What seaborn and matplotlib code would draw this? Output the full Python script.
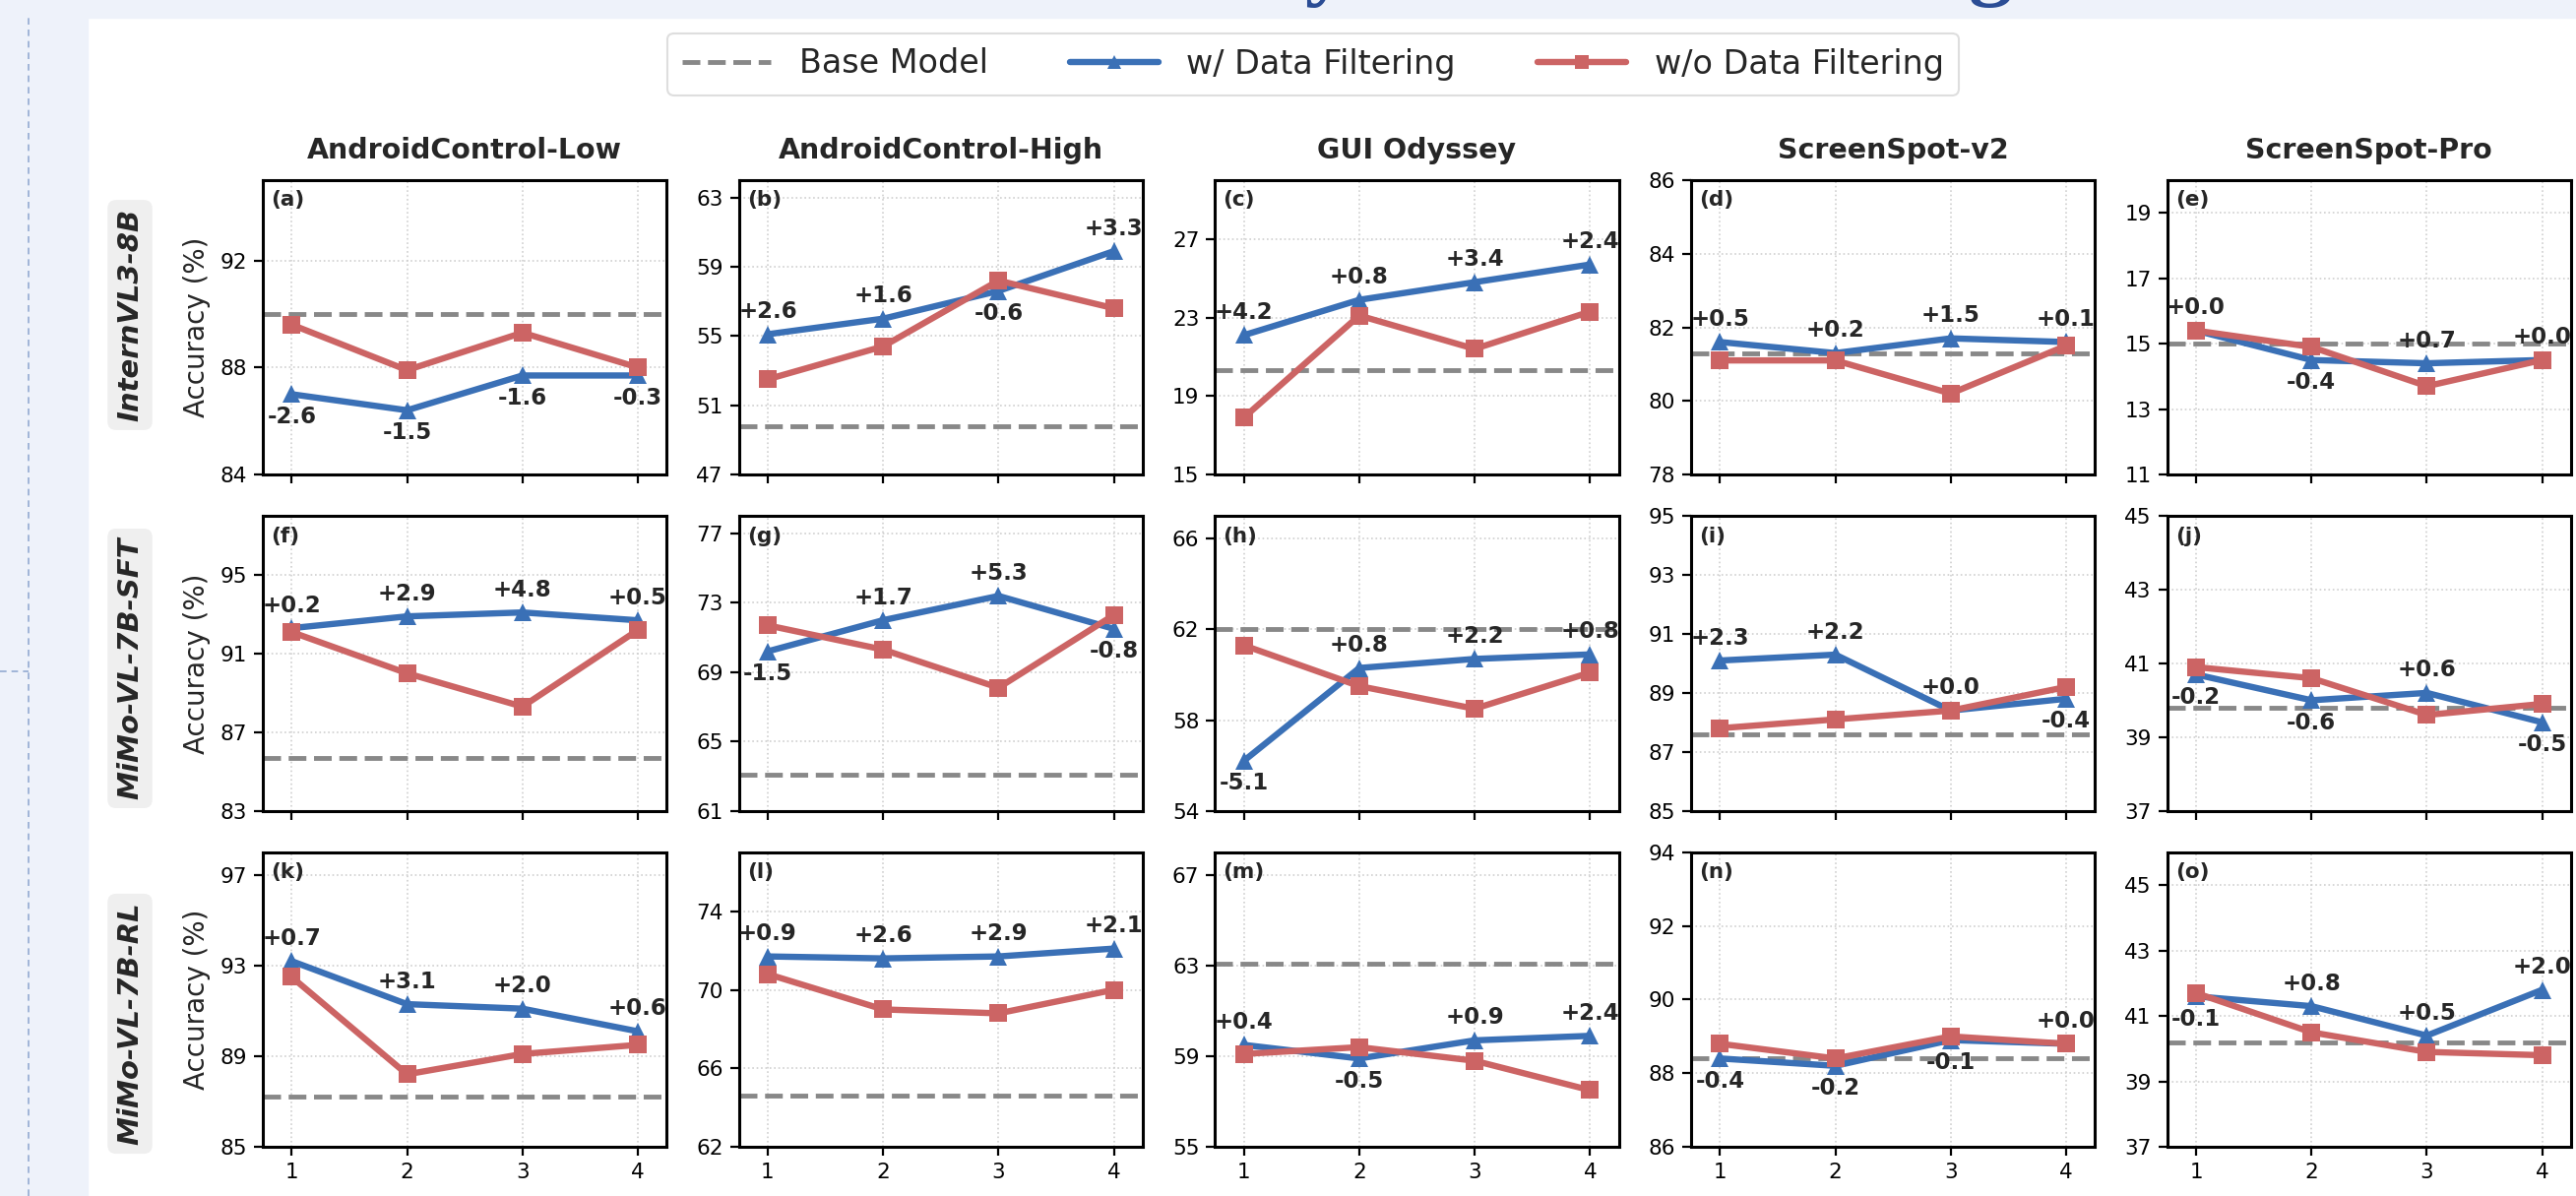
import numpy as np
import pandas as pd
import seaborn as sns
import matplotlib.pyplot as plt
from matplotlib.lines import Line2D
from matplotlib.patches import Rectangle

# Labels
models = ["InternVL3-8B", "MiMo-VL-7B-SFT", "MiMo-VL-7B-RL"]
benchmarks = ["AndroidControl-Low", "AndroidControl-High", "GUI Odyssey",
              "ScreenSpot-v2", "ScreenSpot-Pro"]
steps = [1, 2, 3, 4]
tags = list("abcdefghijklmno")

# Base model accuracy (one value per benchmark)
intern_base = [90.0, 49.8, 20.3, 81.3, 15.0]
sft_base = [85.7, 63.1, 62.0, 87.6, 39.8]
rl_base = [87.2, 64.6, 63.1, 88.4, 40.2]

# w/ Data Filtering
intern_w = [[87.0, 86.4, 87.7, 87.7], [55.1, 56.0, 57.6, 59.9], [22.1, 23.9, 24.8, 25.7],
            [81.6, 81.3, 81.7, 81.6], [15.4, 14.5, 14.4, 14.5]]
sft_w = [[92.3, 92.9, 93.1, 92.7], [70.2, 72.0, 73.4, 71.5], [56.2, 60.3, 60.7, 60.9],
         [90.1, 90.3, 88.4, 88.8], [40.7, 40.0, 40.2, 39.4]]
rl_w = [[93.2, 91.3, 91.1, 90.1], [71.7, 71.6, 71.7, 72.1], [59.5, 58.9, 59.7, 59.9],
        [88.4, 88.2, 88.9, 88.8], [41.6, 41.3, 40.4, 41.8]]

# w/o Data Filtering
intern_wo = [[89.6, 87.9, 89.3, 88.0], [52.5, 54.4, 58.2, 56.6], [17.9, 23.1, 21.4, 23.3],
             [81.1, 81.1, 80.2, 81.5], [15.4, 14.9, 13.7, 14.5]]
sft_wo = [[92.1, 90.0, 88.3, 92.2], [71.7, 70.3, 68.1, 72.3], [61.3, 59.5, 58.5, 60.1],
          [87.8, 88.1, 88.4, 89.2], [40.9, 40.6, 39.6, 39.9]]
rl_wo = [[92.5, 88.2, 89.1, 89.5], [70.8, 69.0, 68.8, 70.0], [59.1, 59.4, 58.8, 57.5],
         [88.8, 88.4, 89.0, 88.8], [41.7, 40.5, 39.9, 39.8]]

# Printed gains (w/ minus w/o)
intern_delta = [[-2.6, -1.5, -1.6, -0.3], [2.6, 1.6, -0.6, 3.3], [4.2, 0.8, 3.4, 2.4],
                [0.5, 0.2, 1.5, 0.1], [0.0, -0.4, 0.7, 0.0]]
sft_delta = [[0.2, 2.9, 4.8, 0.5], [-1.5, 1.7, 5.3, -0.8], [-5.1, 0.8, 2.2, 0.8],
             [2.3, 2.2, 0.0, -0.4], [-0.2, -0.6, 0.6, -0.5]]
rl_delta = [[0.7, 3.1, 2.0, 0.6], [0.9, 2.6, 2.9, 2.1], [0.4, -0.5, 0.9, 2.4],
            [-0.4, -0.2, -0.1, 0.0], [-0.1, 0.8, 0.5, 2.0]]

# y axis (bottom, top, tick step) per panel
intern_yrange = [(84, 95, 4), (47, 64, 4), (15, 30, 4), (78, 86, 2), (11, 20, 2)]
sft_yrange = [(83, 98, 4), (61, 78, 4), (54, 67, 4), (85, 95, 2), (37, 45, 2)]
rl_yrange = [(85, 98, 4), (62, 77, 4), (55, 68, 4), (86, 94, 2), (37, 46, 2)]

base_all = [intern_base, sft_base, rl_base]
w_all = [intern_w, sft_w, rl_w]
wo_all = [intern_wo, sft_wo, rl_wo]
delta_all = [intern_delta, sft_delta, rl_delta]
yrange_all = [intern_yrange, sft_yrange, rl_yrange]

# long table for seaborn
rows = []
for m, model in enumerate(models):
    for b, bench in enumerate(benchmarks):
        for k, s in enumerate(steps):
            rows.append((model, bench, s, w_all[m][b][k], "w/ Data Filtering"))
            rows.append((model, bench, s, wo_all[m][b][k], "w/o Data Filtering"))
df = pd.DataFrame(rows, columns=["model", "bench", "step", "acc", "series"])

BLUE = "#3A70B6"
RED = "#CC6464"
GRAY = "#888888"
palette = {"w/ Data Filtering": BLUE, "w/o Data Filtering": RED}
markers = {"w/ Data Filtering": "^", "w/o Data Filtering": "s"}

sns.set_theme(style="ticks")
plt.rcParams["font.family"] = ["DejaVu Sans"]

W, H = 2617, 1215
fig, axes = plt.subplots(3, 5, figsize=(W / 100, H / 100), dpi=100)
fig.subplots_adjust(left=267 / W, right=2612 / W, top=1 - 183 / H, bottom=1 - 1165 / H,
                    wspace=0.179, hspace=0.142)

# page decoration around the figure
fig.patches.append(Rectangle((0, 0), 89 / W, 1, transform=fig.transFigure,
                             color="#EEF2FA", zorder=-10))
fig.patches.append(Rectangle((0, 1 - 18 / H), 1, 18 / H, transform=fig.transFigure,
                             color="#EEF2FA", zorder=-10))
fig.add_artist(Line2D([29 / W, 29 / W], [0, 1 - 18 / H], transform=fig.transFigure,
                      ls=(0, (4, 3)), color="#93ABD2", lw=1.2))
fig.add_artist(Line2D([0, 29 / W], [1 - 682 / H] * 2, transform=fig.transFigure,
                      ls=(0, (4, 3)), color="#93ABD2", lw=1.2))
# slide title, only its lower edge falls inside the picture
fig.text(1420 / W, 1 + 11 / H, "Ablation Study on Data Filtering", family="Liberation Serif",
         weight="bold", fontsize=64, color="#2B4D95", ha="center", va="baseline")

for m, model in enumerate(models):
    for b, bench in enumerate(benchmarks):
        ax = axes[m, b]
        sub = df[(df["model"] == model) & (df["bench"] == bench)]
        ax.axhline(base_all[m][b], color=GRAY, ls="--", lw=3.5, zorder=1.5)
        sns.lineplot(data=sub, x="step", y="acc", hue="series", style="series",
                     hue_order=list(palette), palette=palette, markers=markers,
                     dashes=False, lw=4.6, markersize=13, markeredgewidth=0,
                     legend=False, ax=ax, zorder=3)

        for k, s in enumerate(steps):
            d = delta_all[m][b][k]
            off = 16.5 if d >= 0 else -16.5
            ax.annotate(f"{d:+.1f}", (s, w_all[m][b][k]), xytext=(0, off),
                        textcoords="offset points", ha="center", va="center",
                        fontsize=16.5, fontweight="bold", zorder=5, annotation_clip=False)

        lo, hi, st = yrange_all[m][b]
        ax.set_ylim(lo, hi)
        ax.set_yticks(np.arange(lo, hi + 0.01, st))
        ax.set_xlim(0.75, 4.25)
        ax.set_xticks(steps)
        if m < 2:
            ax.set_xticklabels([])
        ax.set_xlabel("")
        ax.set_ylabel("")
        ax.grid(True, linestyle=":", color="#d0d0d0", lw=1.2)
        ax.set_axisbelow(True)
        ax.tick_params(direction="out", length=6.5, width=1.6, labelsize=15.5,
                       pad=5, colors="black")
        for sp in ax.spines.values():
            sp.set_visible(True)
            sp.set_linewidth(2.2)
            sp.set_color("black")
        ax.text(0.02, 0.965, f"({tags[m * 5 + b]})", transform=ax.transAxes,
                ha="left", va="top", fontsize=15.5, fontweight="bold")
        if m == 0:
            ax.set_title(bench, fontsize=20.5, fontweight="bold", pad=16)
        if b == 0:
            ax.set_ylabel("Accuracy (%)", fontsize=20, labelpad=7)

# model names on the left
label_y = [320, 679, 1040]
for m, model in enumerate(models):
    fig.text(132 / W, 1 - label_y[m] / H, model, rotation=90, ha="center", va="center",
             fontsize=21, fontweight="bold", fontstyle="italic",
             bbox=dict(boxstyle="round,pad=0.3", fc="#EFEFEF", ec="none"))

handles = [Line2D([], [], color=GRAY, ls="--", lw=3.5),
           Line2D([], [], color=BLUE, lw=4.6, marker="^", markersize=10, markeredgewidth=0),
           Line2D([], [], color=RED, lw=4.6, marker="s", markersize=10, markeredgewidth=0)]
leg = fig.legend(handles, ["Base Model", "w/ Data Filtering", "w/o Data Filtering"],
                 loc="center", bbox_to_anchor=(1334 / W, 1 - 65 / H), ncol=3, fontsize=24,
                 frameon=True, fancybox=True, handlelength=2.7, handletextpad=0.85,
                 columnspacing=2.5, borderpad=0.45)
leg.get_frame().set_edgecolor("#D6D6D6")
leg.get_frame().set_linewidth(1.5)

fig.savefig("out.png", dpi=100)
